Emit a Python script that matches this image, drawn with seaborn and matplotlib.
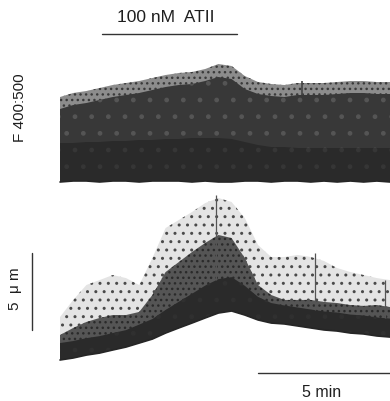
import numpy as np
import pandas as pd
import matplotlib
matplotlib.use("Agg")
import matplotlib.pyplot as plt
import seaborn as sns

# ---------------- data ----------------
# time in minutes, every 0.5 min
time_min = [0.0, 0.5, 1.0, 1.5, 2.0, 2.5, 3.0, 3.5, 4.0, 4.5, 5.0, 5.5, 6.0,
            6.5, 7.0, 7.5, 8.0, 8.5, 9.0, 9.5, 10.0, 10.5, 11.0, 11.5, 12.0, 12.5]

# F 400:500 ratio trace (envelope of the noisy record)
ratio_bottom = [0.713, 0.714, 0.714, 0.713, 0.714, 0.714, 0.713, 0.714, 0.714, 0.714,
                0.713, 0.714, 0.713, 0.713, 0.714, 0.714, 0.713, 0.714, 0.714, 0.713,
                0.714, 0.713, 0.714, 0.713, 0.714, 0.713]
ratio_dense_top = [0.752, 0.752, 0.753, 0.753, 0.754, 0.754, 0.755, 0.755, 0.756, 0.756,
                   0.757, 0.757, 0.757, 0.756, 0.753, 0.750, 0.748, 0.748, 0.747, 0.747,
                   0.747, 0.747, 0.747, 0.747, 0.747, 0.747]
ratio_mid_top = [0.786, 0.790, 0.792, 0.795, 0.798, 0.800, 0.802, 0.805, 0.808, 0.810,
                 0.811, 0.814, 0.818, 0.816, 0.806, 0.801, 0.799, 0.798, 0.800, 0.800,
                 0.800, 0.801, 0.802, 0.802, 0.801, 0.801]
ratio_sparse_top = [0.798, 0.802, 0.804, 0.807, 0.810, 0.812, 0.814, 0.817, 0.820, 0.822,
                    0.823, 0.826, 0.831, 0.829, 0.819, 0.813, 0.811, 0.810, 0.812, 0.812,
                    0.812, 0.813, 0.814, 0.814, 0.813, 0.813]
ratio_spike_time = [9.17]
ratio_spike_top = [0.814]

# cell shortening trace, micrometres (envelope of the noisy record)
um_bottom = [0.00, 0.13, 0.32, 0.45, 0.65, 0.84, 1.10, 1.36, 1.75, 2.08, 2.40, 2.73, 3.05,
             3.18, 2.92, 2.60, 2.40, 2.34, 2.21, 2.08, 1.95, 1.88, 1.75, 1.69, 1.56, 1.49]
um_core_top = [1.10, 1.23, 1.42, 1.55, 1.75, 1.94, 2.30, 2.66, 3.25, 3.78, 4.30, 4.83, 5.25,
               5.38, 4.82, 4.10, 3.70, 3.54, 3.41, 3.28, 3.15, 3.08, 2.95, 2.89, 2.76, 2.69]
um_mid_top = [1.62, 2.08, 2.47, 2.73, 2.92, 2.92, 3.12, 4.22, 5.71, 6.36, 7.01, 7.60, 8.12,
              7.92, 6.62, 4.87, 4.22, 3.90, 3.90, 3.90, 3.77, 3.70, 3.57, 3.51, 3.57, 3.44]
um_sparse_top = [2.79, 3.90, 4.87, 5.19, 5.52, 5.32, 4.87, 6.62, 8.57, 9.09, 9.61, 10.19, 10.52,
                 10.26, 9.22, 7.47, 6.69, 6.69, 6.82, 6.69, 6.43, 5.97, 5.71, 5.52, 5.32, 5.19]

# isolated spikes in the shortening record
spike_time = [5.9, 9.66, 12.31]
spike_um = [10.7, 6.95, 5.19]

# annotations
drug_label = "100 nM  ATII"
drug_on, drug_off = 1.6, 6.7
time_bar_label = "5 min"
time_bar = (7.5, 12.5)
um_bar_label = "5  \u03bc m"
um_bar = (1.95, 6.95)
ratio_label = "F 400:500"

df_ratio = pd.DataFrame({"t": time_min, "bottom": ratio_bottom, "dense": ratio_dense_top,
                         "mid": ratio_mid_top, "upper": ratio_sparse_top})
df_um = pd.DataFrame({"t": time_min, "bottom": um_bottom, "core": um_core_top,
                      "mid": um_mid_top, "upper": um_sparse_top})

# ---------------- figure ----------------
sns.set_theme(style="white")
plt.rcParams["font.family"] = ["Liberation Sans", "DejaVu Sans"]
plt.rcParams["hatch.linewidth"] = 1.0

W, H = 390, 401
fig = plt.figure(figsize=(W / 100, H / 100), dpi=100)
fig.patch.set_facecolor("white")

px_per_min = 26.4
x0_px = 60
xlim = (-x0_px / px_per_min, (W - x0_px) / px_per_min)

# top axes: pixel rows 0..195
ax1 = fig.add_axes([0, 1 - 195 / H, 1, 195 / H])
ax1.set_xlim(*xlim)
ax1.set_ylim(0.700, 0.895)
# bottom axes: pixel rows 195..401
ax2 = fig.add_axes([0, 0, 1, 206 / H])
ax2.set_xlim(*xlim)
ax2.set_ylim(-41 / 15.4, 165 / 15.4)

for ax in (ax1, ax2):
    ax.set_axis_off()

dark = "#262626"
txt = "#1e1e1e"

# --- ratio trace: layers drawn from the bottom edge upwards, overlapping ---
ax1.fill_between(df_ratio["t"], df_ratio["bottom"], df_ratio["upper"], facecolor="#8c8c8c",
                 edgecolor="#3a3a3a", hatch="...", linewidth=0)
ax1.fill_between(df_ratio["t"], df_ratio["bottom"], df_ratio["mid"], facecolor="#383838",
                 edgecolor="#555555", hatch=".", linewidth=0)
ax1.fill_between(df_ratio["t"], df_ratio["bottom"], df_ratio["dense"], facecolor="#2a2a2a",
                 edgecolor="#363636", hatch=".", linewidth=0)
sns.lineplot(data=df_ratio, x="t", y="bottom", ax=ax1, color=dark, lw=1.2)
ax1.vlines(ratio_spike_time, np.interp(ratio_spike_time, time_min, ratio_mid_top),
           ratio_spike_top, color="#444444", lw=1.2)

# --- shortening trace ---
ax2.fill_between(df_um["t"], df_um["bottom"], df_um["upper"], facecolor="#e4e4e4",
                 edgecolor="#4a4a4a", hatch="..", linewidth=0)
ax2.fill_between(df_um["t"], df_um["bottom"], df_um["mid"], facecolor="#555555",
                 edgecolor="#2a2a2a", hatch="...", linewidth=0)
ax2.fill_between(df_um["t"], df_um["bottom"], df_um["core"], facecolor="#2a2a2a",
                 edgecolor="#303030", hatch=".", linewidth=0)
sns.lineplot(data=df_um, x="t", y="bottom", ax=ax2, color=dark, lw=1.2)
ax2.vlines(spike_time, np.interp(spike_time, time_min, um_core_top), spike_um,
           color="#555555", lw=0.9)

# --- annotations ---
fs = 11
ax1.plot([drug_on, drug_off], [0.861, 0.861], color="#333333", lw=1.0)
ax1.text((drug_on + drug_off) / 2 - 0.15, 0.878, drug_label, ha="center", va="center",
         fontsize=12.5, color=txt)
ax1.text(-40 / px_per_min, 0.7 + (195 - 108) / 1000, ratio_label, rotation=90,
         ha="center", va="center", fontsize=fs, color=txt)

ax2.plot([-28 / px_per_min] * 2, list(um_bar), color="#333333", lw=1.0)
ax2.text(-45 / px_per_min, (um_bar[0] + um_bar[1]) / 2 + 0.2, um_bar_label, rotation=90,
         ha="center", va="center", fontsize=fs, color=txt)
ax2.plot(list(time_bar), [-0.844, -0.844], color="#333333", lw=1.0)
ax2.text(sum(time_bar) / 2 - 0.1, -2.1, time_bar_label, ha="center", va="center",
         fontsize=11.5, color=txt)

fig.savefig("out.png", dpi=100, facecolor="white")
